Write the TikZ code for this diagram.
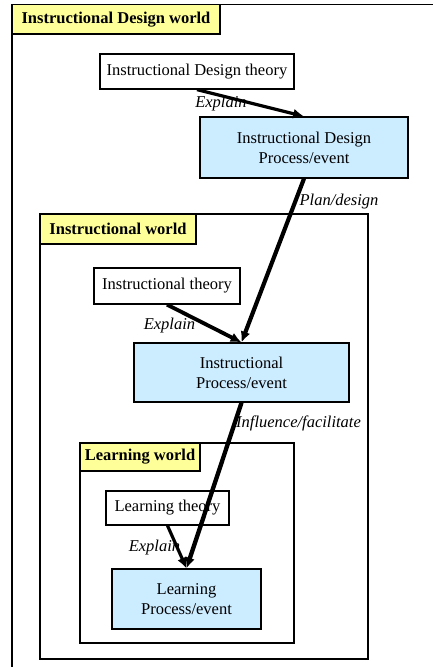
\documentclass[tikz,border=0pt]{standalone}
\usepackage{fontspec}
\setmainfont{Liberation Serif}
\usetikzlibrary{arrows.meta}
\definecolor{titleyellow}{HTML}{FFFF99}
\definecolor{procblue}{HTML}{CCECFF}
\begin{document}
\begin{tikzpicture}[x=0.6pt,y=-0.6pt,
  every node/.style={font=\fontsize{9.9}{12.1}\selectfont},
  wh/.style 2 args={minimum width=#1*0.6pt, minimum height=#2*0.6pt},
  box/.style={draw, line width=0.75pt, inner sep=0pt, align=center},
  theorybox/.style={box, fill=white},
  procbox/.style={box, fill=procblue},
  worldbox/.style={draw, line width=0.75pt, inner sep=0pt},
  titlebox/.style={box, fill=titleyellow, font=\fontsize{9.9}{12.1}\selectfont\bfseries},
  rel/.style={font=\fontsize{9.9}{12.1}\selectfont\itshape, inner sep=0pt},
  arr/.style={-{Latex[length=6.5pt,width=6pt]}, line width=2.3pt}
]
\useasboundingbox (0,0) rectangle (433,667);
\clip (0,0) rectangle (433,667);
\fill[white] (0,0) rectangle (433,667);

% Instructional Design world
\node[worldbox, wh={438}{685}] (idw) at (231,347.35) {};
\node[titlebox, wh={208}{29.3}] (idwt) at (116,19.35) {Instructional Design world};
\node[theorybox, wh={194}{35}] (idt) at (197,71.5) {Instructional Design theory};
\node[procbox, wh={208}{61}] (idp) at (304,147.5) {Instructional Design\\Process/event};

% Instructional world
\node[worldbox, fill=white, wh={328}{445}] (iw) at (204,436.5) {};
\node[titlebox, wh={156}{30}] (iwt) at (118,229) {Instructional world};
\node[theorybox, wh={146}{36}] (it) at (167,286) {Instructional theory};
\node[procbox, wh={215}{59}] (ip) at (241.5,372.5) {Instructional\\Process/event};

% Learning world
\node[worldbox, fill=white, wh={214}{200}] (lw) at (187,543) {};
\node[titlebox, wh={120}{28}] (lwt) at (140,457) {Learning world};
\node[theorybox, wh={123}{34}] (lt) at (167.5,508) {Learning theory};
\node[procbox, wh={149}{60}] (lp) at (186.5,599) {Learning\\Process/event};

% labels
\node[rel] (e1) at (221,104) {Explain};
\node[rel] (pd) at (339,202) {Plan/design};
\node[rel] (e2) at (169.5,326) {Explain};
\node[rel] (inf) at (298.5,423) {Influence/facilitate};
\node[rel] (e3) at (154.5,548) {Explain};

% arrows
\draw[arr, line width=1.9pt] (idt.south) -- (idp.north);
\draw[arr, line width=2.5pt] (idp.south) -- (ip.north);
\draw[arr] (it.south) -- (ip.north);
\draw[arr, line width=2.6pt] (ip.south) -- (lp.north);
\draw[arr, line width=1.9pt] (lt.south) -- (lp.north);
\end{tikzpicture}
\end{document}
